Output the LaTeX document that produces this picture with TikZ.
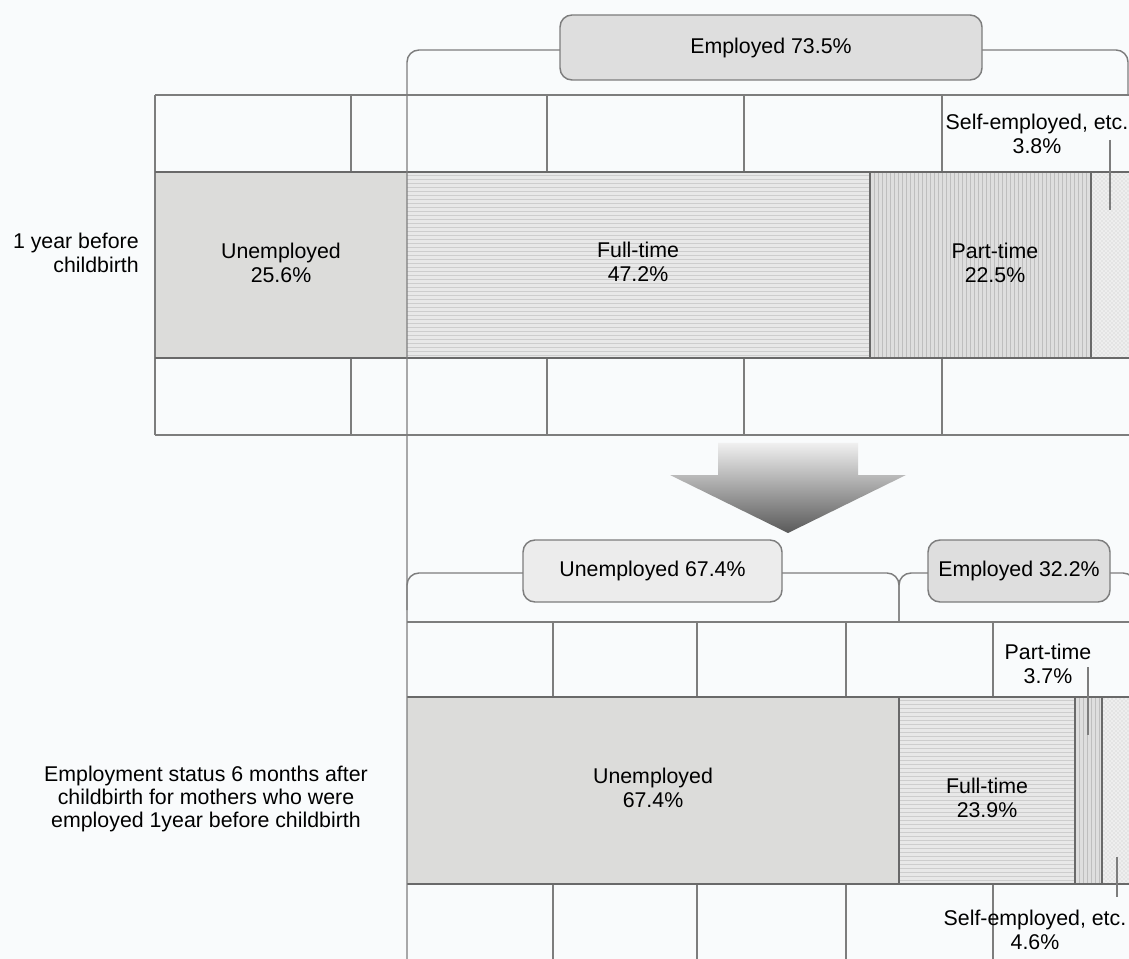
\documentclass[tikz,border=0pt]{standalone}
\usepackage{fontspec}
\setmainfont{Liberation Sans}
\usetikzlibrary{patterns}
\definecolor{bgc}{RGB}{249,251,252}
\definecolor{gridc}{RGB}{125,125,125}
\definecolor{segline}{RGB}{105,105,105}
\definecolor{unempc}{RGB}{220,220,218}
\definecolor{ftc}{RGB}{232,232,232}
\definecolor{ftstripe}{RGB}{205,205,205}
\definecolor{ptc}{RGB}{222,222,222}
\definecolor{ptstripe}{RGB}{190,190,190}
\definecolor{sec}{RGB}{238,238,238}
\definecolor{tagdark}{RGB}{222,222,222}
\definecolor{taglight}{RGB}{236,236,236}
\definecolor{tagborder}{RGB}{125,125,125}
\tikzset{
  gridline/.style={draw=gridc, line width=1pt},
  segborder/.style={draw=segline, line width=1pt},
  bracket/.style={draw=gridc, line width=1.1pt, rounded corners=9pt},
  tagbox/.style={draw=tagborder, line width=1.1pt, rounded corners=9pt, inner sep=0pt},
  lbl/.style={align=center, inner sep=0pt, text=black},
  marker/.style={draw=gridc, line width=1pt},
  hstripe/.style={draw=ftstripe, line width=0.5pt},
  vstripe/.style={draw=ptstripe, line width=0.5pt},
  every node/.style={font=\fontsize{16}{17.5}\selectfont}
}
\begin{document}
\begin{tikzpicture}[x=0.75pt,y=-0.75pt]
\useasboundingbox (0,0) rectangle (1129,959);
\fill[bgc] (0,0) rectangle (1129,959);

% ---------------- top chart ----------------
% bar segments
\fill[unempc] (155,172) rectangle (407,358);
\fill[ftc] (407,172) rectangle (870,358);
\foreach \yy in {175,179,...,356} \draw[hstripe] (407,\yy) -- (870,\yy);
\fill[ptc] (870,172) rectangle (1091,358);
\foreach \xx in {874,878,...,1090} \draw[vstripe] (\xx,172) -- (\xx,358);
\fill[sec] (1091,172) rectangle (1129,358);
\fill[pattern=crosshatch dots, pattern color=gray!45] (1091,172) rectangle (1129,358);
% grid
\draw[gridline] (155,95) -- (1129,95);
\draw[gridline] (155,435) -- (1129,435);
\draw[gridline] (155,95) -- (155,435);
\foreach \xx in {351,547,744,942} {
  \draw[gridline] (\xx,95) -- (\xx,172);
  \draw[gridline] (\xx,358) -- (\xx,435);
}
\draw[segborder] (155,172) -- (1129,172);
\draw[segborder] (155,358) -- (1129,358);
\draw[segborder] (870,172) -- (870,358);
\draw[segborder] (1091,172) -- (1091,358);

% ---------------- bottom chart ----------------
\fill[unempc] (407,697) rectangle (899,884);
\fill[ftc] (899,697) rectangle (1075,884);
\foreach \yy in {700,704,...,882} \draw[hstripe] (899,\yy) -- (1075,\yy);
\fill[ptc] (1075,697) rectangle (1102,884);
\foreach \xx in {1079,1083,...,1100} \draw[vstripe] (\xx,697) -- (\xx,884);
\fill[sec] (1102,697) rectangle (1129,884);
\fill[pattern=crosshatch dots, pattern color=gray!45] (1102,697) rectangle (1129,884);
\draw[gridline] (407,622) -- (1129,622);
\foreach \xx in {553,697,846,993} {
  \draw[gridline] (\xx,622) -- (\xx,697);
  \draw[gridline] (\xx,884) -- (\xx,959);
}
\draw[segborder] (407,697) -- (1129,697);
\draw[segborder] (407,884) -- (1129,884);
\draw[segborder] (899,697) -- (899,884);
\draw[segborder] (1075,697) -- (1075,884);
\draw[segborder] (1102,697) -- (1102,884);

% ---------------- brackets ----------------
\draw[bracket] (407,959) -- (407,50) -- (1128,50) -- (1128,95);
\draw[bracket] (407,610) -- (407,573) -- (899,573) -- (899,622);
\draw[bracket] (899,622) -- (899,573) -- (1135,573) -- (1135,610);

% ---------------- tag boxes ----------------
\node[tagbox, fill=tagdark, minimum width=316.5pt, minimum height=48.75pt] (emp1) at (771,47.5) {Employed 73.5\%};
\node[tagbox, fill=taglight, minimum width=194.25pt, minimum height=46.5pt] (unemp2) at (652.5,571) {Unemployed 67.4\%};
\node[tagbox, fill=tagdark, minimum width=136.5pt, minimum height=46.5pt] (emp2) at (1019,571) {Employed 32.2\%};

% ---------------- arrow ----------------
\shade[top color=gray!12, bottom color=gray!70!black]
  (718,443) -- (858,443) -- (858,475) -- (906,475) -- (788,533) -- (670,475) -- (718,475) -- cycle;

% ---------------- labels ----------------
\node[lbl, align=right, anchor=east] (lab1) at (139,253) {1 year before\\childbirth};
\node[lbl] (lab2) at (206,799) {Employment status 6 months after\\childbirth for mothers who were\\employed 1year before childbirth};

\node[lbl] (u1) at (281,263) {Unemployed\\25.6\%};
\node[lbl] (f1) at (638,262) {Full-time\\47.2\%};
\node[lbl] (p1) at (995,263) {Part-time\\22.5\%};
\node[lbl] (s1) at (1037,134) {Self-employed, etc.\\3.8\%};

\node[lbl] (u2) at (653,788) {Unemployed\\67.4\%};
\node[lbl] (f2) at (987,798) {Full-time\\23.9\%};
\node[lbl] (p2) at (1048,664) {Part-time\\3.7\%};
\node[lbl] (s2) at (1035,930) {Self-employed, etc.\\4.6\%};

% markers
\coordinate (m1a) at (1110,140); \coordinate (m1b) at (1110,210);
\draw[marker] (m1a) -- (m1b);
\coordinate (m2a) at (1088,667); \coordinate (m2b) at (1088,735);
\draw[marker] (m2a) -- (m2b);
\coordinate (m3a) at (1117,857); \coordinate (m3b) at (1117,897);
\draw[marker] (m3a) -- (m3b);
\end{tikzpicture}
\end{document}
